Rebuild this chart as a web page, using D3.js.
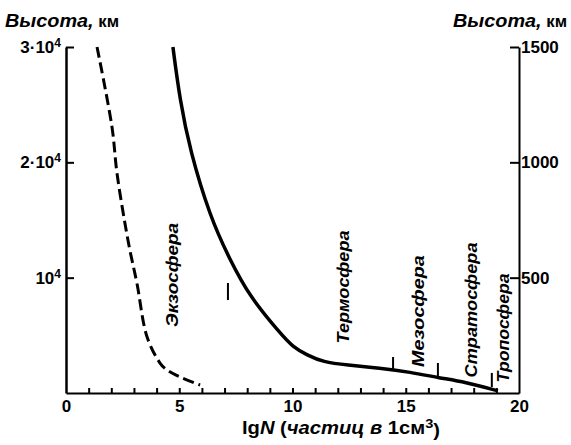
<!DOCTYPE html>
<html>
<head>
<meta charset="utf-8">
<script src="https://cdn.jsdelivr.net/npm/d3@7"></script>
<style>
  body { margin: 0; background: #fff; }
  svg text { font-family: "Liberation Sans", Arial, sans-serif; font-weight: bold; fill: #000; }
</style>
</head>
<body>
<script>
// Solid curve: lg N vs altitude (right axis, km)
var solidLgN = [4.72, 5.03, 5.47, 6.36, 7.24, 8.12, 9.45, 10.02, 10.64, 11.35, 12.4, 13.86, 15.19, 16.51, 17.6, 19.07];
var solidAlt = [1500, 1270, 1053, 763, 577, 416, 260, 199, 165, 134, 121, 108, 91, 65, 48, 9];

// Dashed curve: lg N vs altitude (left axis, km)
var dashLgN = [1.37, 2.03, 2.25, 2.6, 2.83, 3.13, 3.58, 4.15, 4.46, 5.03, 5.92];
var dashAlt = [30000, 23064, 19075, 14740, 12300, 9538, 4855, 2601, 1994, 1387, 694];

// Layer boundary marks (right axis, km)
var markLgN = [7.15, 14.44, 16.42, 18.8];
var markTop = [477, 156, 130, 87];
var markBottom = [403, 100, 69, 26];

// Layer names and where they sit (lg N, km on right axis)
var layerNames = ['Экзосфера', 'Термосфера', 'Мезосфера', 'Стратосфера', 'Тропосфера'];
var layerLgN = [4.68, 12.23, 15.54, 17.88, 19.29];
var layerAlt = [512, 460, 355, 360, 282];
var layerLen = [104, 113, 112, 135, 109];

// Ticks
var xTicks = [0, 5, 10, 15, 20];
var xMinor = d3.range(1, 20);
var leftTicks = [10000, 20000, 30000];
var leftLabels = [['10', '4'], ['2·10', '4'], ['3·10', '4']];
var rightTicks = [500, 1000, 1500];

var svg = d3.select('body').append('svg').attr('width', 571).attr('height', 445);

var x = d3.scaleLinear().domain([0, 20]).range([66, 519]);
var yLeft = d3.scaleLinear().domain([0, 30000]).range([393, 47]);
var yRight = d3.scaleLinear().domain([0, 1500]).range([393, 47]);

function styleAxis(g) {
  g.attr('font-family', null).attr('font-size', null);
  g.selectAll('path, line').attr('stroke', '#000').attr('stroke-width', 2);
  g.selectAll('text').attr('font-size', '17px');
}

// minor ticks on bottom axis
svg.append('g')
  .attr('transform', 'translate(0,393)')
  .call(d3.axisBottom(x).tickValues(xMinor).tickSize(-5).tickFormat(''))
  .call(styleAxis)
  .select('.domain').remove();

// bottom axis
svg.append('g')
  .attr('transform', 'translate(0,393)')
  .call(d3.axisBottom(x).tickValues(xTicks).tickSize(0).tickSizeOuter(0).tickPadding(7))
  .call(styleAxis);

// left axis
var gl = svg.append('g')
  .attr('transform', 'translate(66,0)')
  .call(d3.axisLeft(yLeft).tickValues(leftTicks).tickSize(-8).tickSizeOuter(0).tickPadding(5).tickFormat(''))
  .call(styleAxis);
gl.selectAll('.tick text').each(function (d, i) {
  var t = d3.select(this);
  t.append('tspan').text(leftLabels[i][0]);
  t.append('tspan').attr('dy', '-0.5em').attr('font-size', '12px').text(leftLabels[i][1]);
});
gl.select('.domain').attr('stroke-width', 2.5);

// right axis
svg.append('g')
  .attr('transform', 'translate(519,0)')
  .call(d3.axisRight(yRight).tickValues(rightTicks).tickSize(-9).tickSizeOuter(0).tickPadding(2).tickFormat(d3.format('d')))
  .call(styleAxis);

// axis titles
function heightTitle(xPos) {
  var t = svg.append('text').attr('x', xPos).attr('y', 27).attr('font-size', '19px')
    .attr('textLength', 114).attr('lengthAdjust', 'spacingAndGlyphs');
  t.append('tspan').attr('font-style', 'italic').text('Высота,');
  t.append('tspan').attr('font-size', '16px').text(' км');
}
heightTitle(5);
heightTitle(453);

var xt = svg.append('text').attr('x', 242).attr('y', 434).attr('font-size', '18px')
  .attr('textLength', 198).attr('lengthAdjust', 'spacingAndGlyphs');
xt.append('tspan').text('lg');
xt.append('tspan').attr('font-style', 'italic').text('N');
xt.append('tspan').text(' (');
xt.append('tspan').attr('font-style', 'italic').text('частиц в');
xt.append('tspan').text(' 1см');
xt.append('tspan').attr('dy', '-0.45em').attr('font-size', '13px').text('3');
xt.append('tspan').attr('dy', '0.45em').text(')');

// curves
var solidLine = d3.line()
  .x(function (d) { return x(d[0]); })
  .y(function (d) { return yRight(d[1]); })
  .curve(d3.curveBasis);

svg.append('path')
  .datum(d3.zip(solidLgN, solidAlt))
  .attr('fill', 'none')
  .attr('stroke', '#000')
  .attr('stroke-width', 3.5)
  .attr('d', solidLine);

var dashLine = d3.line()
  .x(function (d) { return x(d[0]); })
  .y(function (d) { return yLeft(d[1]); })
  .curve(d3.curveCatmullRom.alpha(0.5));

svg.append('path')
  .datum(d3.zip(dashLgN, dashAlt))
  .attr('fill', 'none')
  .attr('stroke', '#000')
  .attr('stroke-width', 3)
  .attr('stroke-dasharray', '11,5')
  .attr('d', dashLine);

// boundary marks
svg.append('g').selectAll('line')
  .data(markLgN)
  .enter()
  .append('line')
  .attr('x1', function (d) { return x(d); })
  .attr('x2', function (d) { return x(d); })
  .attr('y1', function (d, i) { return yRight(markTop[i]); })
  .attr('y2', function (d, i) { return yRight(markBottom[i]); })
  .attr('stroke', '#000')
  .attr('stroke-width', 2);

// layer labels
svg.append('g').selectAll('text')
  .data(layerNames)
  .enter()
  .append('text')
  .attr('transform', function (d, i) {
    return 'translate(' + x(layerLgN[i]) + ',' + yRight(layerAlt[i]) + ') rotate(-90)';
  })
  .attr('text-anchor', 'middle')
  .attr('dy', '0.35em')
  .attr('font-size', '17px')
  .attr('font-style', 'italic')
  .attr('textLength', function (d, i) { return layerLen[i]; })
  .attr('lengthAdjust', 'spacingAndGlyphs')
  .text(function (d) { return d; });
</script>
</body>
</html>
